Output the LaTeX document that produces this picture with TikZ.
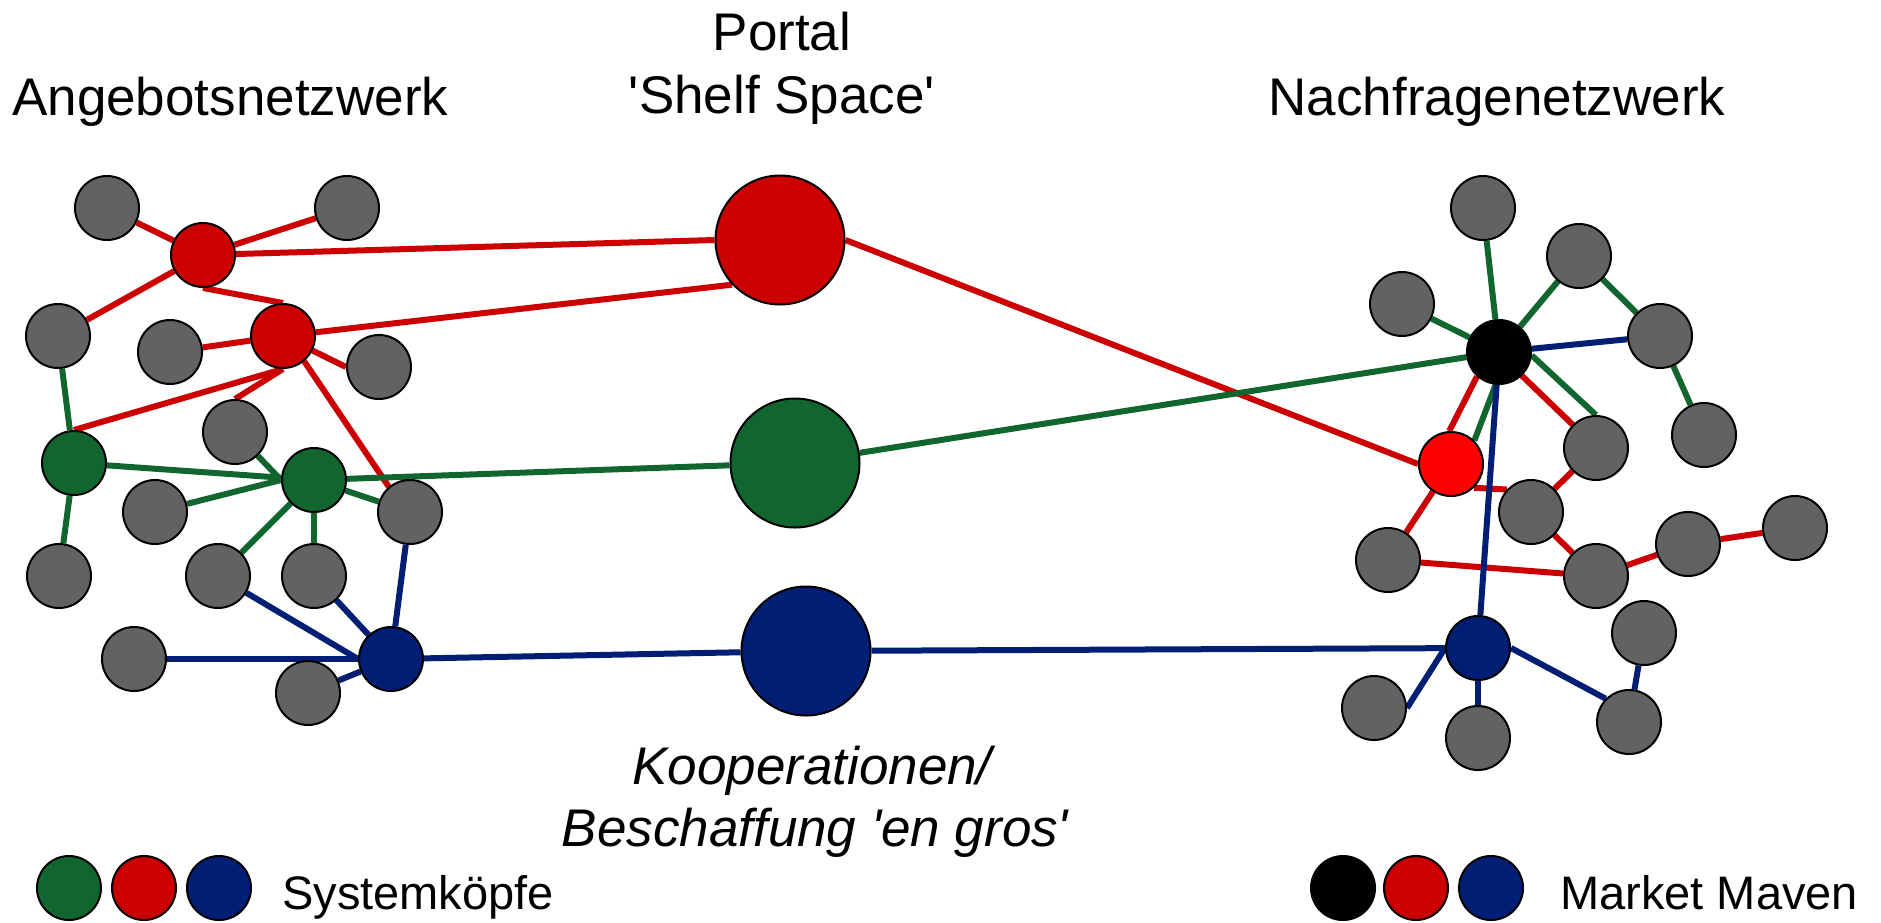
\documentclass[tikz,border=0pt]{standalone}
\usepackage{fontspec}
\setmainfont{Liberation Sans}
\definecolor{cred}{RGB}{204,0,0}
\definecolor{cbright}{RGB}{255,0,0}
\definecolor{cgreen}{RGB}{17,102,48}
\definecolor{cblue}{RGB}{0,30,116}
\definecolor{cgray}{RGB}{98,98,98}
\pgfdeclarelayer{edges}
\pgfsetlayers{edges,main}
\tikzset{
  dot/.style={circle, draw=black, line width=2pt, minimum size=64pt, inner sep=0pt, fill=cgray},
  big/.style={dot, minimum size=129pt},
  redln/.style={draw=cred, line width=6pt},
  grnln/.style={draw=cgreen, line width=6pt},
  bluln/.style={draw=cblue, line width=6pt},
  lbl/.style={inner sep=0pt, anchor=base, font=\fontsize{53}{62}\selectfont},
  leg/.style={inner sep=0pt, anchor=base west, font=\fontsize{47}{56}\selectfont}
}
\begin{document}
\begin{tikzpicture}[x=1pt,y=-1pt]
\useasboundingbox (0,0) rectangle (1881,922);
% portal
\node[big, fill=cred]   (P1) at (780,240) {};
\node[big, fill=cgreen] (P2) at (795,463) {};
\node[big, fill=cblue]  (P3) at (806,651) {};
% left network
\node[dot] (A1) at (107,208) {};
\node[dot] (A2) at (347,208) {};
\node[dot, fill=cred] (R1) at (203,255) {};
\node[dot] (A3) at (58,336) {};
\node[dot] (A4) at (170,352) {};
\node[dot, fill=cred] (R2) at (283,336) {};
\node[dot] (A5) at (379,367) {};
\node[dot] (A6) at (235,432) {};
\node[dot, fill=cgreen] (G1) at (74,463) {};
\node[dot, fill=cgreen] (G2) at (314,480) {};
\node[dot] (A7) at (155,512) {};
\node[dot] (A8) at (410,512) {};
\node[dot] (A9) at (59,576) {};
\node[dot] (A10) at (218,576) {};
\node[dot] (A11) at (314,576) {};
\node[dot] (A12) at (134,659) {};
\node[dot, fill=cblue] (B1) at (391,659) {};
\node[dot] (A13) at (308,693) {};
% right network
\node[dot] (C1) at (1483,208) {};
\node[dot] (C2) at (1579,256) {};
\node[dot] (C3) at (1402,304) {};
\node[dot, fill=black] (K) at (1499,352) {};
\node[dot] (C4) at (1660,336) {};
\node[dot] (C5) at (1704,435) {};
\node[dot] (C6) at (1596,448) {};
\node[dot, fill=cbright] (RR) at (1451,464) {};
\node[dot] (C7) at (1531,512) {};
\node[dot] (C8) at (1388,560) {};
\node[dot] (C9) at (1688,544) {};
\node[dot] (C10) at (1795,528) {};
\node[dot] (C11) at (1596,576) {};
\node[dot] (C12) at (1644,633) {};
\node[dot, fill=cblue] (BB) at (1478,648) {};
\node[dot] (C13) at (1374,708) {};
\node[dot] (C14) at (1478,738) {};
\node[dot] (C15) at (1629,722) {};
% legend
\node[dot, fill=cgreen] (LG) at (69,888) {};
\node[dot, fill=cred] (LR) at (144,888) {};
\node[dot, fill=cblue] (LB) at (219,888) {};
\node[dot, fill=black] (MK) at (1343,888) {};
\node[dot, fill=cred] (MR) at (1416,888) {};
\node[dot, fill=cblue] (MB) at (1491,888) {};
\node[leg] (t1) at (282,909) {Systemköpfe};
\node[leg] (t2) at (1560,909) {Market Maven};
% titles
\node[lbl] (portal) at (782,50) {Portal};
\node[lbl] (shelf) at (782,113) {\textquotesingle Shelf Space\textquotesingle};
\node[lbl, anchor=base west] (angebot) at (12,115) {Angebotsnetzwerk};
\node[lbl] (nachfrage) at (1497,115) {Nachfragenetzwerk};
\node[lbl, font=\fontsize{53}{62}\selectfont\itshape] (koop) at (812,784) {Kooperationen/};
\node[lbl, font=\fontsize{53}{62}\selectfont\itshape] (besch) at (815,846) {Beschaffung \textquotesingle en gros\textquotesingle};
\begin{pgfonlayer}{edges}
% red
\draw[redln] (A1) -- (R1);
\draw[redln] (R1) -- (A2);
\draw[redln] (R1) -- (P1.west);
\draw[redln] (R1) -- (A3);
\draw[redln] (R1.south) -- (R2.north);
\draw[redln] (R2) -- (P1.223);
\draw[redln] (A4) -- (R2);
\draw[redln] (R2) -- (A5.west);
\draw[redln] (R2.south) -- (G1.north);
\draw[redln] (R2.south) -- (A6.north);
\draw[redln] (R2.-50) -- (A8.130);
\draw[redln] (P1.east) -- (RR.west);
\draw[redln] (K.228) -- (RR.93);
\draw[redln] (K.314) -- (C6.135);
\draw[redln] (RR.314) -- (C7.137);
\draw[redln] (C7) -- (C6);
\draw[redln] (C7) -- (C11);
\draw[redln] (RR) -- (C8);
\draw[redln] (C8) -- (C11);
\draw[redln] (C11) -- (C9);
\draw[redln] (C9) -- (C10);
% green
\draw[grnln] (A3) -- (G1);
\draw[grnln] (G1) -- (G2);
\draw[grnln] (G1) -- (A9);
\draw[grnln] (A6) -- (G2.west);
\draw[grnln] (A7) -- (G2.west);
\draw[grnln] (G2) -- (P2);
\draw[grnln] (G2) -- (A8);
\draw[grnln] (G2) -- (A10);
\draw[grnln] (G2) -- (A11);
\draw[grnln] (P2) -- (K);
\draw[grnln] (K) -- (C1);
\draw[grnln] (K) -- (C2);
\draw[grnln] (K) -- (C3);
\draw[grnln] (C2) -- (C4);
\draw[grnln] (C4) -- (C5);
\draw[grnln] (K.264) -- (RR.45);
\draw[grnln] (K.354) -- (C6.north);
% blue
\draw[bluln] (A8) -- (B1);
\draw[bluln] (A10) -- (B1.west);
\draw[bluln] (A11) -- (B1);
\draw[bluln] (A12) -- (B1);
\draw[bluln] (A13) -- (B1);
\draw[bluln] (B1) -- (P3);
\draw[bluln] (P3) -- (BB);
\draw[bluln] (K) -- (BB);
\draw[bluln] (K) -- (C4);
\draw[bluln] (BB.west) -- (C13.east);
\draw[bluln] (BB) -- (C14);
\draw[bluln] (BB.east) -- (C15.135);
\draw[bluln] (C15) -- (C12);
\end{pgfonlayer}
\end{tikzpicture}
\end{document}
